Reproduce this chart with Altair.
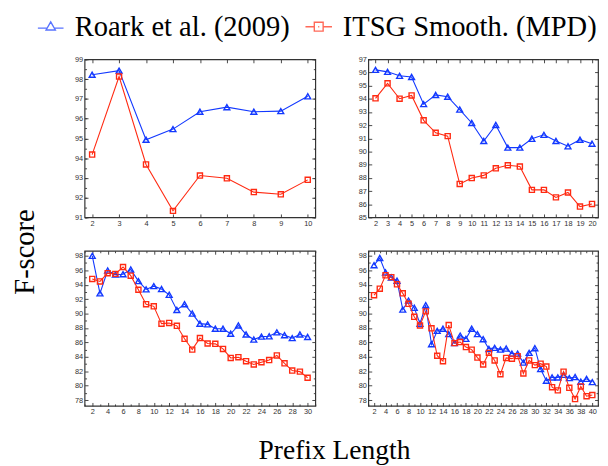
import altair as alt
import pandas as pd

BLUE = "#1238ff"
RED = "#ff2a12"
S1 = "Roark et al. (2009)"
S2 = "ITSG Smooth. (MPD)"

p1_x = list(range(2, 11))
p1_roark = [98.22, 98.43, 94.93, 95.47, 96.35, 96.58, 96.35, 96.38, 97.13]
p1_itsg = [94.18, 98.13, 93.68, 91.33, 93.12, 92.98, 92.28, 92.17, 92.9]

p2_x = list(range(2, 21))
p2_roark = [96.2, 96.05, 95.75, 95.66, 93.6, 94.3, 94.16, 93.19, 92.17, 90.8,
            92.02, 90.3, 90.3, 90.97, 91.27, 90.8, 90.4, 90.9, 90.6]
p2_itsg = [94.04, 95.18, 94.01, 94.26, 92.37, 91.42, 91.17, 87.54, 87.99, 88.19,
           88.73, 88.96, 88.86, 87.09, 87.09, 86.52, 86.89, 85.82, 86.02]

p3_x = list(range(2, 31))
p3_roark = [98.0, 92.8, 95.96, 95.4, 95.45, 96.1, 94.5, 93.35, 93.8, 93.4,
            92.6, 90.5, 91.3, 90.0, 88.6, 88.5, 87.9, 87.9, 87.2, 88.35,
            87.1, 86.4, 86.8, 86.85, 87.4, 87.0, 86.6, 87.1, 86.75]
p3_itsg = [94.8, 94.45, 95.6, 95.5, 96.45, 95.25, 93.3, 91.3, 91.0, 88.6,
           88.7, 88.3, 86.5, 85.0, 86.6, 85.85, 85.8, 85.1, 83.85, 83.95,
           83.4, 82.95, 83.25, 83.55, 84.2, 83.1, 82.1, 81.95, 81.1]

p4_x = list(range(2, 41))
p4_roark = [96.7, 97.7, 95.7, 95.0, 94.55, 90.55, 91.8, 90.8, 88.6, 91.15,
            85.75, 87.6, 87.9, 87.15, 85.9, 86.95, 86.5, 87.9, 87.15, 86.45,
            85.1, 85.25, 85.0, 85.15, 84.45, 84.45, 83.2, 84.55, 85.2, 82.3,
            80.7, 81.15, 81.15, 81.5, 81.05, 81.2, 80.55, 80.95, 80.5]
p4_itsg = [92.55, 93.45, 95.3, 95.05, 94.05, 92.8, 91.35, 89.55, 88.35, 90.3,
           87.95, 84.15, 83.4, 88.4, 85.9, 86.05, 85.35, 85.0, 83.9, 82.95,
           84.55, 83.5, 81.6, 83.85, 83.75, 84.1, 81.7, 83.5, 82.85, 83.05,
           82.65, 79.8, 79.35, 81.95, 79.7, 78.15, 79.9, 78.55, 78.7]

TRI_PATH = "M-2.9,0.33H-0.72M0.72,0.33H2.9M0,-1.1L1.05,0.75L-1.05,0.75Z"
SQ_PATH = "M-3,0H-1M1,0H3M-1,-1H1V1H-1ZM-0.12,0H0.12"


def axis(orient, values, size, labels):
    return alt.Axis(orient=orient, values=values, tickSize=size, offset=-size,
                    labels=labels, labelPadding=2, labelFont="Liberation Sans",
                    labelFontSize=7.5, labelColor="#333", tickColor="#333",
                    tickWidth=0.9, domain=False, grid=False, title=None,
                    labelFlush=False, labelOverlap=False)


def make_panel(xs, roark, itsg, xdom, ydom, xmaj, xmin, ymaj, ymin, w, h, legend=False):
    df = pd.DataFrame({"x": xs + xs, "y": roark + itsg,
                       "s": [S1] * len(xs) + [S2] * len(xs)})
    xsc = alt.Scale(domain=xdom, nice=False, zero=False)
    ysc = alt.Scale(domain=ydom, nice=False, zero=False)
    base = alt.Chart(df)

    def enc(xa, ya):
        return dict(x=alt.X("x:Q", scale=xsc, axis=xa), y=alt.Y("y:Q", scale=ysc, axis=ya))

    blue = base.transform_filter(alt.datum.s == S1).mark_line(
        color=BLUE, strokeWidth=1.1,
        point=alt.OverlayMarkDef(shape="triangle-up", filled=False, size=36,
                                 color=BLUE, strokeWidth=1.4)
    ).encode(**enc(axis("bottom", xmaj, 3.5, True), axis("left", ymaj, 3.5, True)))
    red = base.transform_filter(alt.datum.s == S2).mark_line(
        color=RED, strokeWidth=1.1,
        point=alt.OverlayMarkDef(shape="square", filled=False, size=27,
                                 color=RED, strokeWidth=1.4)
    ).encode(**enc(None, None))
    ax2 = base.mark_line(opacity=0).encode(**enc(axis("top", xmaj, 3.5, False),
                                                 axis("right", ymaj, 3.5, False)))
    layers = [blue, red, ax2]
    if xmin or ymin:
        ax3 = base.mark_line(opacity=0).encode(**enc(
            axis("bottom", xmin, 2, False) if xmin else None,
            axis("left", ymin, 2, False) if ymin else None))
        ax4 = base.mark_line(opacity=0).encode(**enc(
            axis("top", xmin, 2, False) if xmin else None,
            axis("right", ymin, 2, False) if ymin else None))
        layers += [ax3, ax4]
    if legend:
        leg = alt.Legend(orient="none", legendX=-49, legendY=-48, direction="horizontal",
                         title=None, labelFont="Liberation Serif", labelFontSize=29,
                         labelColor="black", symbolSize=81, symbolStrokeWidth=1.4,
                         labelOffset=10, columnPadding=12, labelLimit=500, padding=0,
                         symbolFillColor="transparent")
        lg = base.transform_filter("false").mark_point(filled=False, strokeWidth=1.4).encode(
            color=alt.Color("s:N", scale=alt.Scale(domain=[S1, S2], range=[BLUE, RED]), legend=leg),
            shape=alt.Shape("s:N", scale=alt.Scale(domain=[S1, S2], range=[TRI_PATH, SQ_PATH]), legend=leg),
        )
        layers.append(lg)
    return alt.layer(*layers).resolve_axis(x="independent", y="independent").properties(width=w, height=h)


def half(a, b):
    return [a + 0.5 * i for i in range(int((b - a) * 2) + 1)]


p1 = make_panel(p1_x, p1_roark, p1_itsg, [1.72, 10.28], [91, 99],
                p1_x, None, list(range(91, 100)), half(91, 99), 235, 161, legend=True)
p2 = make_panel(p2_x, p2_roark, p2_itsg, [1.4, 20.5], [85, 97],
                p2_x, None, list(range(85, 98)), None, 234, 161)
p3 = make_panel(p3_x, p3_roark, p3_itsg, [1, 31], [77.2, 98.7],
                list(range(2, 31, 2)), list(range(1, 32, 2)), list(range(78, 99, 2)),
                list(range(77, 99, 2)), 235, 158)
p4 = make_panel(p4_x, p4_roark, p4_itsg, [1, 41], [77.2, 98.7],
                list(range(2, 41, 2)), list(range(1, 42, 2)), list(range(78, 99, 2)),
                list(range(77, 99, 2)), 234, 158)

grid = alt.concat(p1, p2, p3, p4, columns=2, spacing={"column": 54, "row": 34},
                  bounds="flush",
                  title=alt.TitleParams("F-score", orient="left", font="Liberation Serif",
                                        fontSize=29, fontWeight="normal", color="black",
                                        anchor="middle", offset=35, dx=-17))

chart = alt.vconcat(grid, bounds="flush",
                    title=alt.TitleParams("Prefix Length", orient="bottom", font="Liberation Serif",
                                          fontSize=28, fontWeight="normal", color="black",
                                          anchor="middle", offset=22, dx=30)
                    ).properties(padding={"left": 3, "top": 0, "right": 0, "bottom": 0}
                    ).configure_view(stroke="#333", strokeWidth=1.2
                    ).configure_legend(labelFont="Liberation Serif", labelFontSize=29, padding=0)

chart.save("out.html", embed_options={"renderer": "svg", "actions": False})
